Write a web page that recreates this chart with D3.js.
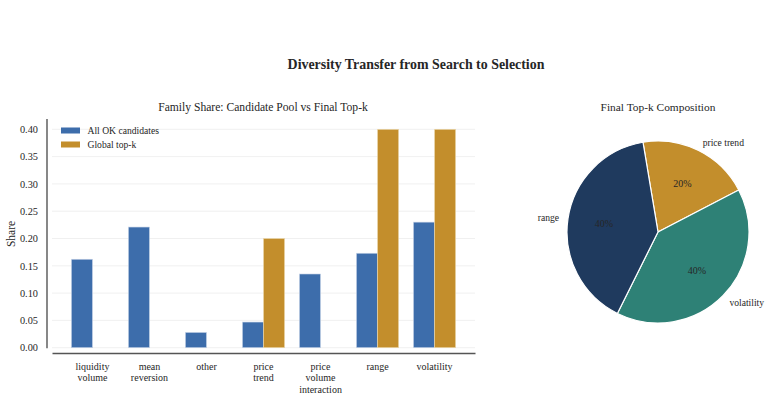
<!DOCTYPE html>
<html>
<head>
<meta charset="utf-8">
<script src="https://cdn.jsdelivr.net/npm/d3@7"></script>
<style>
  body { margin: 0; background: #fff; }
  svg text { font-family: "Liberation Serif", "Times New Roman", serif; fill: #262626; }
</style>
</head>
<body>
<svg width="772" height="399"></svg>
<script>
// Data
var families = ['liquidity volume', 'mean reversion', 'other', 'price trend', 'price volume interaction', 'range', 'volatility'];
var allOk = [0.162, 0.221, 0.028, 0.047, 0.135, 0.173, 0.23];
var topK = [0, 0, 0, 0.2, 0, 0.4, 0.4];
var yTicks = [0, 0.05, 0.1, 0.15, 0.2, 0.25, 0.3, 0.35, 0.4];
var pieLabels = ['price trend', 'volatility', 'range'];
var pieValues = [0.2, 0.4, 0.4];

var blue = '#3d6dab', gold = '#c38e2c';
var pieColors = ['#c38e2c', '#2e8176', '#1f3a5e'];

var svg = d3.select('svg');

// Main title
svg.append('text').attr('x', 416).attr('y', 69).attr('text-anchor', 'middle')
  .style('font-size', '13.9px').style('font-weight', 'bold').text('Diversity Transfer from Search to Selection');

// ---- Bar chart ----
var x = d3.scaleLinear().domain([-0.71, 6.71]).range([52, 475]);
var y = d3.scaleLinear().domain([0, 0.42]).range([347.7, 118.4]);
var bw = x(0.37) - x(0);

svg.append('text').attr('x', 263).attr('y', 111).attr('text-anchor', 'middle')
  .style('font-size', '11.6px').text('Family Share: Candidate Pool vs Final Top-k');

// grid
svg.append('g').selectAll('line').data(yTicks).enter().append('line')
  .attr('x1', 52).attr('x2', 475)
  .attr('y1', d => y(d)).attr('y2', d => y(d))
  .attr('stroke', '#ececec').attr('stroke-width', 0.8);

// y axis
var yAxis = d3.axisLeft(y).tickValues(yTicks).tickFormat(d3.format('.2f')).tickSize(0).tickPadding(8.5);
var yg = svg.append('g').attr('transform', 'translate(46.5,0)').call(yAxis);
yg.select('.domain').attr('stroke', '#262626').attr('stroke-width', 1.1);
yg.selectAll('text').style('font-size', '10.3px').attr('fill', '#262626');

svg.append('text').attr('transform', 'translate(15,234) rotate(-90)').attr('text-anchor', 'middle')
  .style('font-size', '11.5px').text('Share');

// bars
var rows = families.map((f, i) => ({i: i, a: allOk[i], b: topK[i]}));
svg.append('g').selectAll('rect').data(rows).enter().append('rect')
  .attr('x', d => x(d.i - 0.37)).attr('width', bw)
  .attr('y', d => y(d.a)).attr('height', d => y(0) - y(d.a))
  .attr('fill', blue).attr('stroke', '#c9d5e8').attr('stroke-width', 0.6);
svg.append('g').selectAll('rect').data(rows.filter(d => d.b > 0)).enter().append('rect')
  .attr('x', d => x(d.i)).attr('width', bw)
  .attr('y', d => y(d.b)).attr('height', d => y(0) - y(d.b))
  .attr('fill', gold).attr('stroke', '#ecd9b0').attr('stroke-width', 0.6);

// x axis (offset spine)
var xAxis = d3.axisBottom(x).tickValues(d3.range(families.length)).tickFormat('').tickSize(0);
var xg = svg.append('g').attr('transform', 'translate(0,353)').call(xAxis);
xg.select('.domain').attr('stroke', '#555').attr('stroke-width', 1.4);

svg.append('g').selectAll('text').data(families).enter().append('text')
  .attr('text-anchor', 'middle').attr('x', (d, i) => x(i)).attr('y', 370)
  .style('font-size', '10px')
  .each(function(d) {
    d.split(' ').forEach((w, k) => {
      d3.select(this).append('tspan').attr('x', this.getAttribute('x')).attr('dy', k ? 11.3 : 0).text(w);
    });
  });

// legend
var legend = svg.append('g');
[['All OK candidates', blue], ['Global top-k', gold]].forEach((l, k) => {
  legend.append('rect').attr('x', 61).attr('y', 127.5 + k * 14).attr('width', 19).attr('height', 6).attr('fill', l[1]);
  legend.append('text').attr('x', 87.5).attr('y', 134 + k * 14).style('font-size', '9.6px').text(l[0]);
});

// ---- Pie chart ----
var cx = 658, cy = 232, r = 91;
svg.append('text').attr('x', cx).attr('y', 111).attr('text-anchor', 'middle')
  .style('font-size', '11.4px').text('Final Top-k Composition');

var start = -9.5 * Math.PI / 180;
var pie = d3.pie().sort(null).startAngle(start).endAngle(start + 2 * Math.PI);
var arcs = pie(pieValues);
var arc = d3.arc().innerRadius(0).outerRadius(r);
var pg = svg.append('g').attr('transform', 'translate(' + cx + ',' + cy + ')');
pg.selectAll('path').data(arcs).enter().append('path')
  .attr('d', arc).attr('fill', (d, i) => pieColors[i])
  .attr('stroke', '#fff').attr('stroke-width', 1.2);

function pos(d, k) {
  var a = (d.startAngle + d.endAngle) / 2;
  return [Math.sin(a) * r * k, -Math.cos(a) * r * k];
}
pg.selectAll('.lab').data(arcs).enter().append('text')
  .attr('x', d => pos(d, 1.1)[0]).attr('y', d => pos(d, 1.1)[1])
  .attr('dy', '0.35em')
  .attr('text-anchor', d => pos(d, 1)[0] > 0 ? 'start' : 'end')
  .style('font-size', '9.6px').text((d, i) => pieLabels[i]);
pg.selectAll('.pct').data(arcs).enter().append('text')
  .attr('x', d => pos(d, 0.6)[0]).attr('y', d => pos(d, 0.6)[1])
  .attr('dy', '0.35em').attr('text-anchor', 'middle')
  .style('font-size', '10px').text(d => d3.format('.0%')(d.value));
</script>
</body>
</html>
